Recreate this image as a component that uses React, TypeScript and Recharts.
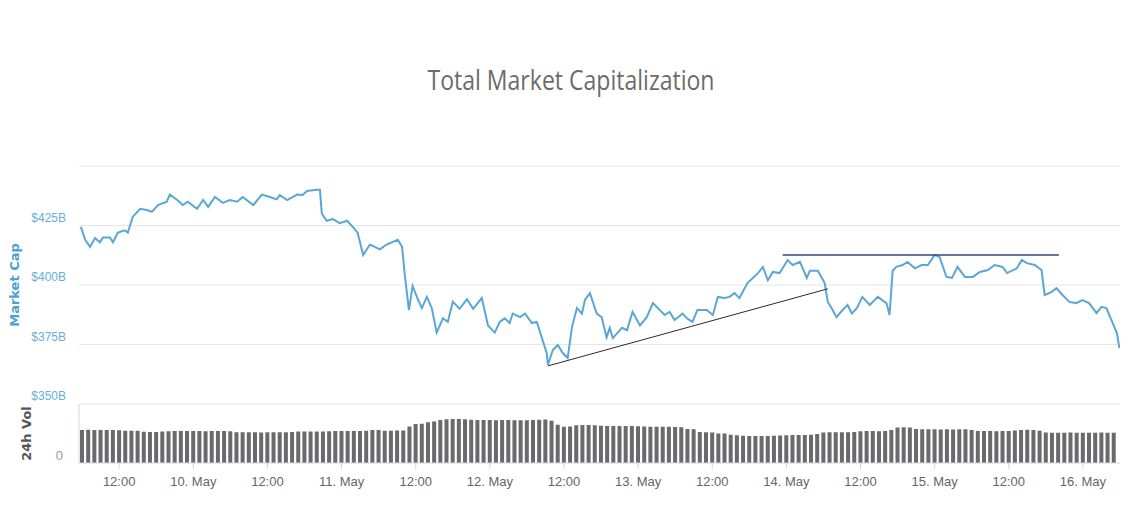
import React from "react";
import {
  Bar,
  BarChart,
  CartesianGrid,
  Line,
  LineChart,
  ReferenceLine,
  XAxis,
  YAxis,
} from "recharts";

// hours counted from 9 May 00:00
const capHours = [
  5.8, 6.5, 7.3, 8.1, 8.9, 9.4, 10.5, 11.0, 11.8, 12.9, 13.4, 14.2, 15.4, 16.5,
  17.3, 18.3, 19.7, 20.2, 21.4, 22.3, 23.1, 24.6, 25.6, 26.4, 27.5, 28.8, 29.9,
  31.1, 32.0, 33.7, 35.1, 36.4, 37.5, 38.0, 39.2, 40.8, 41.7, 42.4, 44.0, 44.5,
  44.8, 45.6, 46.6, 47.7, 48.9, 49.8, 50.6, 51.5, 52.6, 54.2, 55.3, 57.1, 57.8,
  58.2, 58.9, 59.5, 60.4, 61.0, 61.8, 62.6, 63.4, 64.4, 65.2, 66.0, 67.1, 68.3,
  69.3, 70.7, 71.7, 72.8, 73.6, 74.4, 75.2, 75.7, 76.9, 77.7, 78.8, 79.6, 80.4,
  81.2, 81.4, 82.2, 83.0, 83.8, 84.6, 85.3, 86.1, 86.9, 87.4, 88.2, 89.3, 90.1,
  90.9, 91.4, 91.9, 93.4, 94.2, 95.1, 96.3, 97.4, 98.4, 99.2, 100.3, 101.1,
  101.9, 103.2, 103.9, 104.8, 105.6, 107.1, 108.1, 108.9, 110.0, 110.8, 111.6,
  112.4, 113.7, 115.4, 116.2, 117.0, 117.8, 118.9, 120.2, 121.0, 122.2, 123.3,
  123.8, 125.1, 126.2, 126.7, 127.5, 128.1, 129.1, 129.9, 130.6, 131.4, 132.3,
  133.5, 134.8, 136.2, 136.7, 137.2, 137.8, 138.8, 139.6, 140.8, 141.9, 142.9,
  144.0, 144.8, 145.9, 146.8, 147.7, 148.9, 150.2, 151.3, 152.6, 153.7, 155.0,
  155.7, 157.3, 158.1, 158.9, 160.2, 161.3, 161.8, 162.9, 163.7, 164.7, 165.8,
  166.9, 167.9, 169.0, 170.2, 171.0, 171.8, 172.6, 173.5, 173.9,
];

// market cap, $B
const marketCap = [
  424.4, 419, 416, 419.7, 418, 420, 420, 418, 422, 423, 422, 428.6, 432, 431.5,
  430.7, 433.6, 435, 438, 435.7, 433.6, 435, 432, 435.7, 432.8, 437, 434.5, 435.7,
  435, 437, 433.6, 438, 437, 436, 437.8, 435.7, 438, 437.8, 439.5, 440, 440,
  430, 427, 427.7, 426, 427, 424.4, 422, 412.6, 417, 415, 417, 419, 416,
  405, 389.5, 399.6, 393.7, 390.3, 395, 390.3, 380, 386, 384.5, 393, 390, 394,
  390, 394.5, 383, 380, 384.5, 386, 384, 388, 386.5, 388, 384, 384.5, 378,
  371.4, 366.4, 372.7, 374.8, 371.4, 369.3, 382.4, 390.3, 388, 393.7, 396.6, 388, 386.5,
  378, 382, 377.7, 382, 381, 388.7, 383, 386.5, 392.4, 390.3, 387.4, 388.7,
  385.3, 388, 386, 384.5, 389.5, 389.5, 387.4, 395, 394.5, 395, 396.6,
  394.5, 400.8, 405, 407.6, 402, 405.5, 405, 410.5, 408.4, 409.7, 403,
  406, 406, 400.8, 392.9, 389.5, 386.5, 389.5, 391.6, 388, 390.3, 395,
  391.6, 395, 392.4, 387.4, 406, 407.6, 408.4, 409.7, 407, 408.4, 408.4,
  412.6, 411.8, 403.4, 403, 407.6, 403.4, 403.4, 405.5, 406.3, 408.4, 407.6,
  405, 407, 410.5, 409.2, 408.4, 406.3, 395.8, 397, 398.7, 395.8, 392.9,
  392.4, 393.7, 392.4, 388.2, 390.8, 390.3, 385.3, 379.8, 373.5,
];

// 24h volume, one bar per hour starting 9 May 06:00
const volumeStartHour = 6;
const volume = [
  28.0, 28.1, 28.0, 28.0, 27.9, 28.0, 27.8, 27.4, 27.4, 27.3, 26.4, 26.3, 26.3,
  26.8, 27.0, 27.1, 27.1, 27.2, 27.1, 27.1, 27.0, 27.1, 27.2, 27.1, 26.9,
  26.1, 26.0, 26.0, 26.0, 25.9, 26.0, 26.0, 26.1, 26.0, 26.2,
  26.6, 26.6, 26.7, 26.6, 26.6, 27.0, 27.1, 27.1, 27.2, 27.1, 27.1, 27.3,
  28.0, 28.0, 27.4, 27.4, 27.5, 27.6, 31.0, 33.1, 33.2, 34.6, 35.2,
  36.4, 37.1, 37.2, 37.3, 37.1,
  36.6, 36.5, 36.4, 36.4, 36.3, 36.4, 36.4, 36.3, 36.2, 36.3, 36.4, 36.6, 36.8,
  35.8, 32.5, 30.8, 30.9, 32.0, 32.2, 32.2, 32.0,
  31.5, 31.4, 31.4, 31.3, 31.4, 31.3, 31.2, 30.9, 30.8, 30.8, 30.7, 30.8, 30.6, 30.3,
  28.9, 28.6, 26.2, 26.0, 25.8, 25.1, 24.9, 23.9, 23.6,
  23.0, 22.9, 22.9, 22.8, 22.9, 23.0, 23.2, 23.6, 23.7, 23.8, 23.8, 24.0, 24.6,
  25.8, 26.0, 26.1, 26.0, 26.1, 26.3, 27.0, 27.1, 27.1, 27.0, 27.2, 28.0,
  30.0, 30.3, 30.1, 28.8, 28.6, 28.5, 28.5, 28.4, 28.5, 28.4, 28.5, 28.6, 28.0,
  27.2, 27.1, 27.1, 27.0, 27.1, 27.2, 27.5, 28.0, 28.1, 28.0, 27.4,
  25.8, 25.7, 25.6, 25.7, 25.8, 25.7, 25.6, 25.7, 25.7, 25.8, 25.7, 25.6,
];

const xTicks = [12, 24, 36, 48, 60, 72, 84, 96, 108, 120, 132, 144, 156, 168];
const xTickLabels = [
  "12:00", "10. May", "12:00", "11. May", "12:00", "12. May", "12:00",
  "13. May", "12:00", "14. May", "12:00", "15. May", "12:00", "16. May",
];
const capTicks = [350, 375, 400, 425, 450];

// drawn trend lines: [startHour, startCap, endHour, endCap]
const supportLine = [81.4, 366.0, 126.7, 398.4];
const resistanceLine = [119.4, 412.6, 164.1, 412.6];

const capData = capHours.map((t, i) => ({ t, cap: marketCap[i] }));
const volData = volume.map((v, i) => ({ t: volumeStartHour + i, vol: v }));

const X_DOMAIN: [number, number] = [5.5, 174];

const CapTick = (props: any) => {
  const { y, payload } = props;
  if (payload.value === 450) return <g />;
  return (
    <text x={66} y={y - 4} textAnchor="end" fill="#6aaed6" fontSize={12}>
      ${payload.value}B
    </text>
  );
};

const VolTick = (props: any) => {
  const { y } = props;
  return (
    <text x={63} y={y - 3} textAnchor="end" fill="#999" fontSize={13}>
      0
    </text>
  );
};

export default function App() {
  return (
    <div
      style={{
        position: "absolute",
        left: 0,
        top: 0,
        width: 1141,
        height: 512,
        background: "#fff",
        fontFamily: "'Liberation Sans', Arial, sans-serif",
      }}
    >
      <svg width={1141} height={120} style={{ position: "absolute", left: 0, top: 0 }}>
        <text
          x={571}
          y={90}
          textAnchor="middle"
          fontSize={27}
          fill="#6b6b6b"
          fontFamily="'Open Sans', sans-serif"
          textLength={287}
          lengthAdjust="spacingAndGlyphs"
        >
          Total Market Capitalization
        </text>
      </svg>

      <div style={{ position: "absolute", left: 0, top: 0 }}>
        <LineChart
          width={1141}
          height={410}
          data={capData}
          margin={{ top: 166, right: 21, bottom: 6, left: 0 }}
        >
          <CartesianGrid stroke="#e6e6e6" vertical={false} />
          <XAxis
            dataKey="t"
            type="number"
            domain={X_DOMAIN}
            allowDataOverflow
            hide
          />
          <YAxis
            width={79}
            domain={[350, 450]}
            ticks={capTicks}
            interval={0}
            axisLine={false}
            tickLine={false}
            tick={<CapTick />}
            label={{
              value: "Market Cap",
              angle: -90,
              position: "insideLeft",
              offset: 14,
              fill: "#4ea1d3",
              fontSize: 13,
              fontWeight: "bold",
              style: { textAnchor: "middle", fontFamily: "'DejaVu Sans', sans-serif" },
            }}
          />
          <Line
            type="linear"
            dataKey="cap"
            stroke="#5aa7d6"
            strokeWidth={2}
            dot={false}
            isAnimationActive={false}
          />
          <ReferenceLine
            segment={[
              { x: supportLine[0], y: supportLine[1] },
              { x: supportLine[2], y: supportLine[3] },
            ]}
            stroke="#2a2a2a"
            strokeWidth={1}
          />
          <ReferenceLine
            segment={[
              { x: resistanceLine[0], y: resistanceLine[1] },
              { x: resistanceLine[2], y: resistanceLine[3] },
            ]}
            stroke="#34457a"
            strokeWidth={1.3}
          />
        </LineChart>
      </div>

      <div style={{ position: "absolute", left: 0, top: 398 }}>
        <BarChart
          width={1141}
          height={110}
          data={volData}
          margin={{ top: 6, right: 21, bottom: 15, left: 0 }}
          barCategoryGap={0}
        >
          <XAxis
            dataKey="t"
            type="number"
            domain={X_DOMAIN}
            allowDataOverflow
            ticks={xTicks}
            interval={0}
            tickFormatter={(t: number) => xTickLabels[xTicks.indexOf(t)]}
            height={30}
            stroke="#ccd6eb"
            tick={{ fill: "#666", fontSize: 13 }}
            tickSize={6}
            tickMargin={8}
          />
          <YAxis
            width={79}
            domain={[0, 50]}
            ticks={[0]}
            interval={0}
            axisLine={{ stroke: "#ccd6eb" }}
            tickLine={false}
            tick={<VolTick />}
            label={{
              value: "24h Vol",
              angle: -90,
              position: "insideLeft",
              offset: 26,
              fill: "#555",
              fontSize: 13,
              fontWeight: "bold",
              style: { textAnchor: "middle", fontFamily: "'DejaVu Sans', sans-serif" },
            }}
          />
          <Bar dataKey="vol" fill="#6a6a6a" barSize={4} isAnimationActive={false} />
        </BarChart>
      </div>
    </div>
  );
}
